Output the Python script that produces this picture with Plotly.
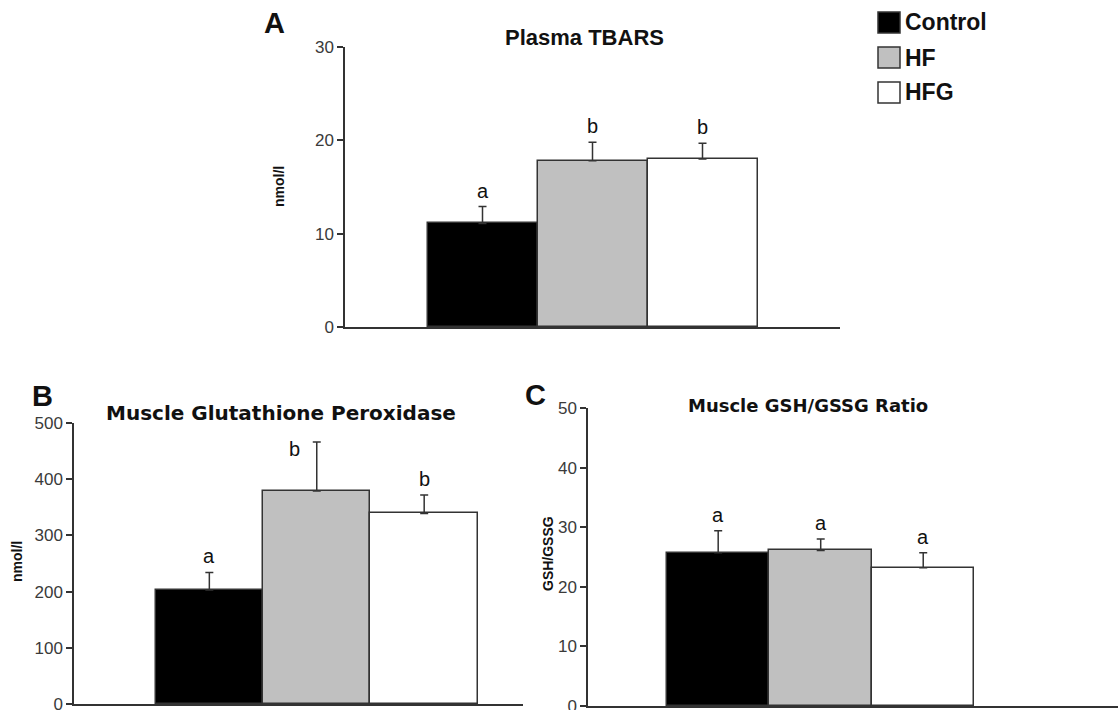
import plotly.graph_objects as go

W, H = 1118, 710

groups = ["Control", "HF", "HFG"]
colors = ["#000000", "#c0c0c0", "#ffffff"]

# Panel A: Plasma TBARS (nmol/l)
tbars_mean = [11.1, 17.8, 18.0]
tbars_err = [1.8, 2.0, 1.7]
tbars_sig = ["a", "b", "b"]

# Panel B: Muscle Glutathione Peroxidase
gpx_mean = [203, 379, 339]
gpx_err = [31, 87, 33]
gpx_sig = ["a", "b", "b"]

# Panel C: Muscle GSH/GSSG ratio
ratio_mean = [25.7, 26.1, 23.2]
ratio_err = [3.7, 1.9, 2.5]
ratio_sig = ["a", "a", "a"]

def px(x):
    return x / W

def py(y):
    return 1 - y / H

fig = go.Figure()

# label offsets (pixel shifts) per bar, style only
no_shift = [(0, 3), (0, 3), (0, 3)]
panels = [
    dict(mean=tbars_mean, err=tbars_err, sig=tbars_sig, xa="x", ya="y", shifts=no_shift,
         xdom=[px(345), px(840)], ydom=[py(327), py(47)], xr=[-1.25, 3.25], yr=[0, 30], dt=10),
    dict(mean=gpx_mean, err=gpx_err, sig=gpx_sig, xa="x2", ya="y2",
         shifts=[(0, 3), (-22, -20), (0, 3)],
         xdom=[px(74), px(523)], ydom=[py(704), py(423)], xr=[-1.26, 2.92], yr=[0, 500], dt=100),
    dict(mean=ratio_mean, err=ratio_err, sig=ratio_sig, xa="x3", ya="y3", shifts=no_shift,
         xdom=[px(588), 1.0], ydom=[py(706), py(408)], xr=[-1.27, 3.9], yr=[0, 50], dt=10),
]

axis_color = "#333333"
tick_font = dict(family="Liberation Sans, Arial", size=17, color="#3a3a3a")

layout_axes = {}
for i, p in enumerate(panels):
    sfx = "" if i == 0 else str(i + 1)
    fig.add_trace(go.Bar(
        x=[0, 1, 2], y=p["mean"], width=1,
        marker=dict(color=colors, line=dict(color="#333333", width=1.5)),
        error_y=dict(type="data", array=p["err"], arrayminus=[0, 0, 0], symmetric=False,
                     color="#333333", thickness=1.5, width=4),
        xaxis=p["xa"], yaxis=p["ya"], showlegend=False, hoverinfo="skip",
    ))
    layout_axes["xaxis" + sfx] = dict(
        domain=p["xdom"], range=p["xr"], showline=True, linecolor=axis_color, linewidth=1.5,
        showticklabels=False, showgrid=False, zeroline=False, ticks="", anchor=p["ya"],
        fixedrange=True, automargin=False,
    )
    layout_axes["yaxis" + sfx] = dict(
        domain=p["ydom"], range=p["yr"], showline=True, linecolor=axis_color, linewidth=1.5,
        showgrid=False, zeroline=False, ticks="outside", ticklen=6, tickcolor=axis_color,
        tickwidth=1.5, dtick=p["dt"], tickfont=tick_font, anchor=p["xa"], fixedrange=True,
        automargin=False, ticklabeloverflow="allow",
    )
    for j in range(3):
        xs, ys = p["shifts"][j]
        fig.add_annotation(
            x=j, y=p["mean"][j] + p["err"][j], xref=p["xa"], yref=p["ya"],
            text=p["sig"][j], showarrow=False, yanchor="bottom", yshift=ys, xshift=xs,
            font=dict(family="Liberation Sans, Arial", size=20, color="#111111"),
        )

fig.update_layout(**layout_axes)

ann_font = "Liberation Sans, Arial"
titles = [
    ("Plasma TBARS", 584, 37, ann_font, 22),
    ("Muscle Glutathione Peroxidase", 281, 413, "DejaVu Sans", 20),
    ("Muscle GSH/GSSG Ratio", 808, 405, "DejaVu Sans", 18),
]
for t, x, y, f, s in titles:
    fig.add_annotation(x=px(x), y=py(y), xref="paper", yref="paper", text="<b>%s</b>" % t,
                       showarrow=False, xanchor="center", yanchor="middle",
                       font=dict(family=f, size=s, color="#111111"))

letters = [("A", 274, 23), ("B", 42, 396), ("C", 535, 395)]
for t, x, y in letters:
    fig.add_annotation(x=px(x), y=py(y), xref="paper", yref="paper", text="<b>%s</b>" % t,
                       showarrow=False, xanchor="center", yanchor="middle",
                       font=dict(family=ann_font, size=29, color="#111111"))

ylabels = [("nmol/l", 279, 187), ("nmol/l", 17, 562), ("GSH/GSSG", 548, 554)]
for t, x, y in ylabels:
    fig.add_annotation(x=px(x), y=py(y), xref="paper", yref="paper", text="<b>%s</b>" % t,
                       showarrow=False, xanchor="center", yanchor="middle", textangle=-90,
                       font=dict(family=ann_font, size=14, color="#111111"))

# Legend (manual keys)
leg_y = [(12, 33), (47, 68), (82, 103)]
for g, c, (y0, y1) in zip(groups, colors, leg_y):
    fig.add_shape(type="rect", xref="paper", yref="paper", x0=px(878), x1=px(900),
                  y0=py(y1), y1=py(y0), fillcolor=c, line=dict(color="#333333", width=1.5))
    fig.add_annotation(x=px(903), y=py((y0 + y1) / 2), xref="paper", yref="paper",
                       text="<b>%s</b>" % g, showarrow=False, xanchor="left", yanchor="middle",
                       font=dict(family=ann_font, size=23, color="#111111"))

fig.update_layout(
    width=W, height=H, margin=dict(l=0, r=0, t=0, b=0, autoexpand=False),
    paper_bgcolor="white", plot_bgcolor="white", showlegend=False, bargap=0,
)

fig.write_html("out.html", config={"displayModeBar": False},
               post_script="document.body.style.margin='0';document.body.style.padding='0';"
                           "document.body.style.overflow='hidden';")
